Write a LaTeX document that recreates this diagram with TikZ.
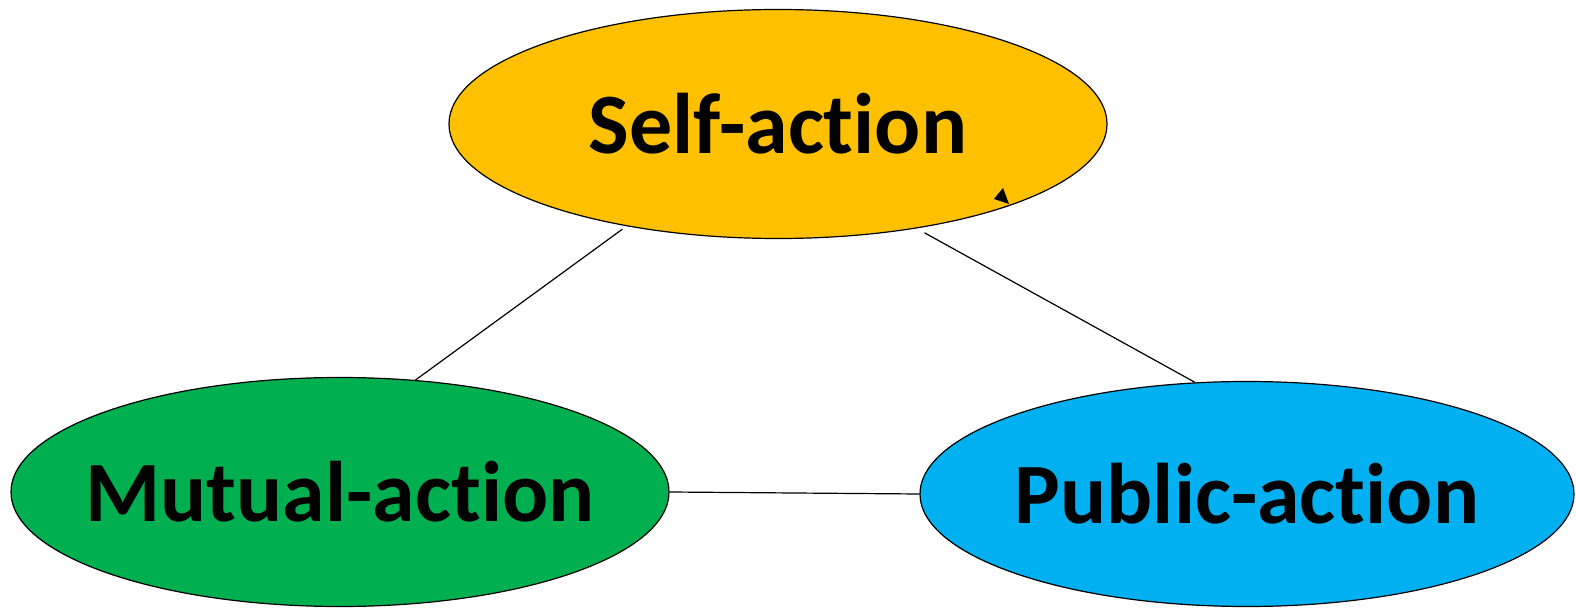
\documentclass[tikz,border=0pt]{standalone}
\usepackage{fontspec}
\setmainfont{Carlito}[Ligatures=NoCommon]
\usepackage{xcolor}
\usetikzlibrary{shapes.geometric,calc}
\definecolor{actyellow}{HTML}{FFC000}
\definecolor{actgreen}{HTML}{00B050}
\definecolor{actblue}{HTML}{00B0F0}
\newcommand{\actname}[1]{\makebox[0pt][c]{#1}}
\tikzset{
  action/.style={ellipse, draw=black, line width=0.6pt, inner sep=0pt,
    minimum width=329pt, minimum height=114.5pt,
    font=\fontsize{43}{52}\selectfont\bfseries, text=black},
  link/.style={draw=black, line width=0.6pt}
}
\begin{document}
\begin{tikzpicture}[x=0.5pt,y=-0.5pt]
    \useasboundingbox (0,0) rectangle (1576,610);
    \node[action, fill=actyellow] (self) at (778,124) {\actname{Self-action}};
    \node[action, fill=actgreen] (mutual) at (340,492) {\actname{Mutual-action}};
    \node[action, fill=actblue, minimum width=327pt, minimum height=112.5pt] (public) at (1247,494) {\actname{Public-action}};

    \draw[link, shorten <=2.5pt] (self.214.8) -- (mutual.56.4);
    \draw[link, shorten <=4.5pt] (self.-37.5) -- (public.115.3);
    \draw[link] (mutual.east) -- (public.west);

    % stray tip on the self-action rim
    \fill[black] (994,199) -- (1003,188) -- (1009,204) -- cycle;
\end{tikzpicture}
\end{document}
